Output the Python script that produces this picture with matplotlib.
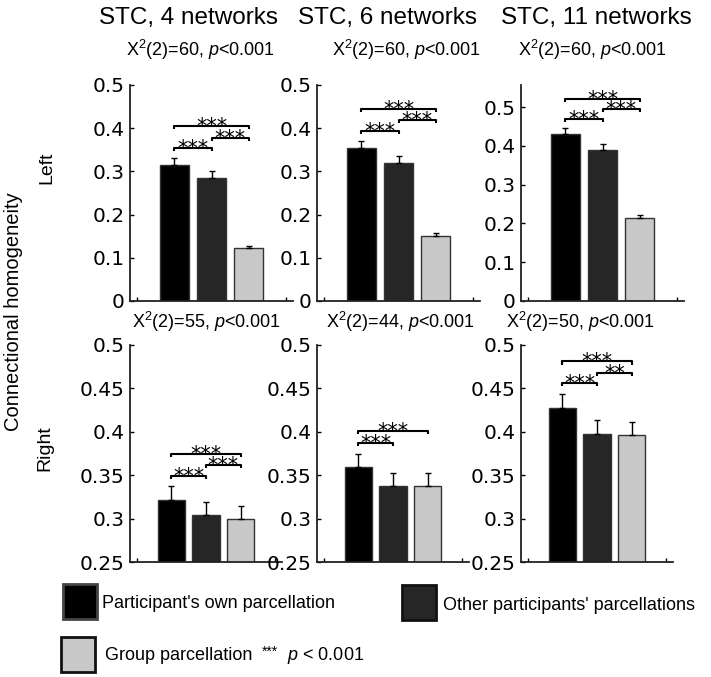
import matplotlib
matplotlib.use("Agg")
import matplotlib.pyplot as plt
from matplotlib.patches import Rectangle
from matplotlib.ticker import FormatStrFormatter

plt.rcParams['font.family'] = 'DejaVu Sans'
plt.rcParams['mathtext.fontset'] = 'custom'
plt.rcParams['mathtext.rm'] = 'Liberation Sans'
plt.rcParams['mathtext.it'] = 'Liberation Sans:italic'

# donnees
groups = ["Participant's own parcellation", "Other participants' parcellations", "Group parcellation"]
titles = ["STC, 4 networks", "STC, 6 networks", "STC, 11 networks"]
colors = ["#000000", "#262626", "#c8c8c8"]

left_means = [[0.315, 0.285, 0.123], [0.355, 0.320, 0.151], [0.430, 0.389, 0.214]]
left_err = [[0.016, 0.016, 0.005], [0.016, 0.016, 0.006], [0.017, 0.017, 0.007]]
right_means = [[0.322, 0.304, 0.299], [0.360, 0.337, 0.338], [0.427, 0.398, 0.396]]
right_err = [[0.016, 0.015, 0.015], [0.015, 0.015, 0.014], [0.016, 0.016, 0.015]]

chi_left = [60, 60, 60]
chi_right = [55, 44, 50]

# comparaisons (barre a, barre b, hauteur, etoiles)
left_sig = [
    [(0, 1, 0.354, '***'), (1, 2, 0.378, '***'), (0, 2, 0.404, '***')],
    [(0, 1, 0.394, '***'), (1, 2, 0.419, '***'), (0, 2, 0.444, '***')],
    [(0, 1, 0.469, '***'), (1, 2, 0.495, '***'), (0, 2, 0.522, '***')],
]
right_sig = [
    [(0, 1, 0.349, '***'), (1, 2, 0.362, '***'), (0, 2, 0.374, '***')],
    [(0, 1, 0.387, '***'), (0, 2, 0.401, '***')],
    [(0, 1, 0.456, '***'), (1, 2, 0.468, '**'), (0, 2, 0.481, '***')],
]

W, H = 711, 677
fig = plt.figure(figsize=(W / 100, H / 100), dpi=100)


def px_box(x0, y0, w, h):
    return [x0 / W, 1 - (y0 + h) / H, w / W, h / H]


lefts = [130, 317, 521]
xpos = [1, 2, 3]


def draw_panel(rect, means, errs, sig, ylim, yticks):
    ax = fig.add_axes(rect)
    ax.bar(xpos, means, width=0.8, color=colors, edgecolor="#333333", linewidth=1)
    ax.errorbar(xpos, means, yerr=[[0, 0, 0], errs], fmt='none', ecolor='black',
                elinewidth=1, capsize=2, capthick=1)
    ax.set_xlim(-0.2, 4.2)
    ax.set_ylim(*ylim)
    ax.set_xticks([0, 4])
    ax.set_xticklabels([])
    ax.set_yticks(yticks)
    ax.yaxis.set_major_formatter(FormatStrFormatter('%g'))
    for s in ['top', 'right']:
        ax.spines[s].set_visible(False)
    for s in ['left', 'bottom']:
        ax.spines[s].set_linewidth(1.3)
        ax.spines[s].set_color('#222222')
    ax.tick_params(direction='in', length=3, width=1, labelsize=14.5, pad=4)
    tl = (ylim[1] - ylim[0]) * 0.014
    for a, b, h, lab in sig:
        xa, xb = xpos[a], xpos[b]
        ax.plot([xa, xa, xb, xb], [h - tl, h, h, h - tl], color='black', lw=1.5,
                solid_capstyle='butt')
        ax.annotate(lab, xy=((xa + xb) / 2, h), xytext=(0, -5), textcoords='offset points',
                    ha='center', va='baseline', fontsize=15)
    return ax


for k in range(3):
    draw_panel(px_box(lefts[k], 85, 163, 216), left_means[k], left_err[k], left_sig[k],
               (0, 0.5) if k < 2 else (0, 0.557), [0, 0.1, 0.2, 0.3, 0.4, 0.5])
    draw_panel(px_box(lefts[k], 345, 152, 217), right_means[k], right_err[k], right_sig[k],
               (0.25, 0.5), [0.25, 0.3, 0.35, 0.4, 0.45, 0.5])

lib = 'Liberation Sans'
title_x = [188, 387, 596]
sub_top_x = [200, 406, 592]
sub_bot_x = [206, 400, 580]
for k in range(3):
    fig.text(title_x[k] / W, 1 - 18 / H, titles[k], ha='center', va='center',
             fontsize=17.5, family=lib)
    fig.text(sub_top_x[k] / W, 1 - 50 / H, r"X$^2$(2)=%d, $p$<0.001" % chi_left[k],
             ha='center', va='center', fontsize=13, family=lib)
    fig.text(sub_bot_x[k] / W, 1 - 322 / H, r"X$^2$(2)=%d, $p$<0.001" % chi_right[k],
             ha='center', va='center', fontsize=13, family=lib)

fig.text(14 / W, 1 - 312 / H, "Connectional homogeneity", rotation=90, ha='center',
         va='center', fontsize=14.5, family=lib)
fig.text(47 / W, 1 - 168 / H, "Left", rotation=90, ha='center', va='center',
         fontsize=14, family=lib)
fig.text(45 / W, 1 - 448 / H, "Right", rotation=90, ha='center', va='center',
         fontsize=14, family=lib)

# legende dessinee a la main
leg_boxes = [(63, 584, colors[0], '#444444'), (402, 585, colors[1], '#111111'),
             (61, 637, colors[2], '#111111')]
leg_text = [(102, 604), (443, 606), (105, 655)]
for (bx, by, fc, ec), (tx, ty), lab in zip(leg_boxes, leg_text, groups):
    fig.patches.append(Rectangle((bx / W, 1 - (by + 35) / H), 34 / W, 35 / H,
                                 transform=fig.transFigure, facecolor=fc,
                                 edgecolor=ec, linewidth=2))
    fig.text(tx / W, 1 - ty / H, lab, ha='left', va='center', fontsize=13, family=lib)
fig.text(262 / W, 1 - 652 / H, "***", ha='left', va='center', fontsize=10, family=lib)
fig.text(287 / W, 1 - 656 / H, r"$p$ < 0.001", ha='left', va='center', fontsize=13,
         family=lib)

fig.savefig("out.png", dpi=100)
